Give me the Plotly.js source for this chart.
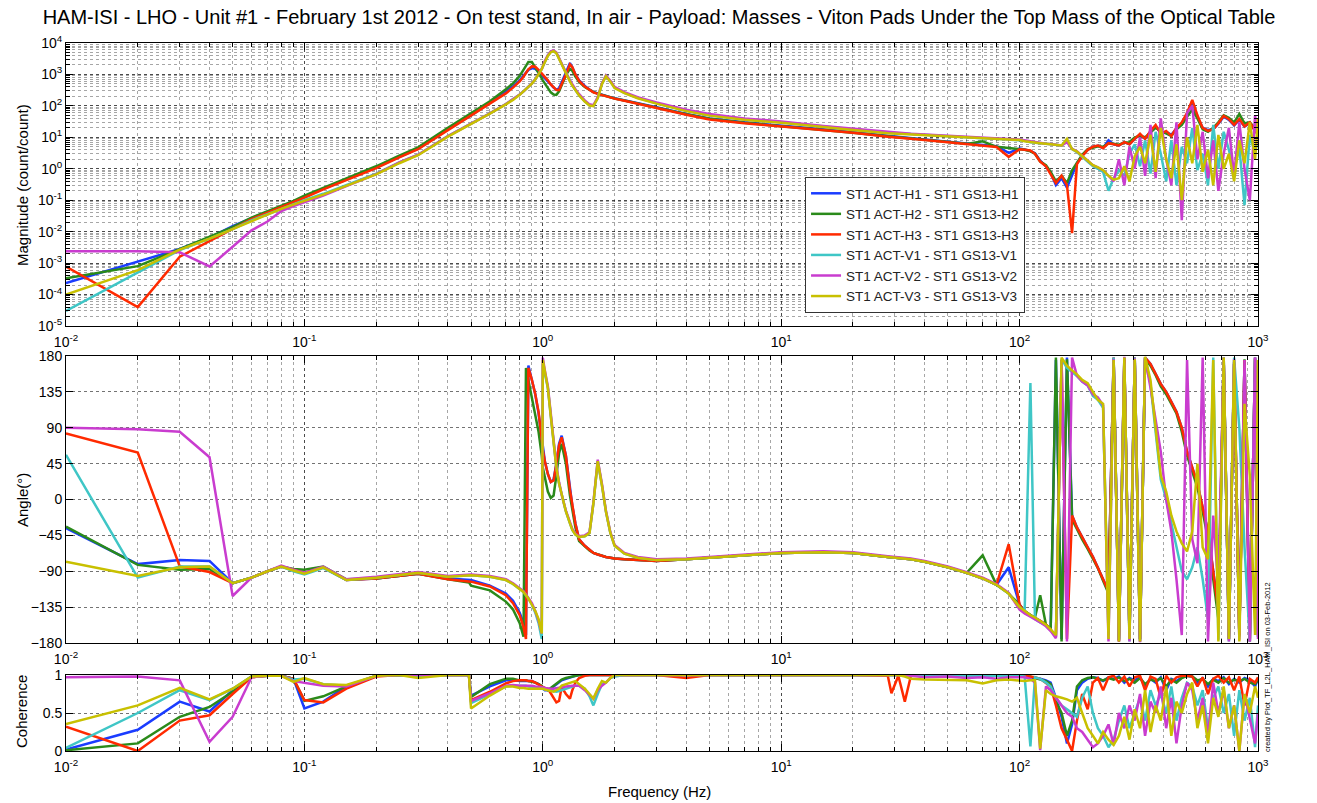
<!DOCTYPE html>
<html>
<head>
<meta charset="utf-8">
<script src="https://cdn.plot.ly/plotly-3.0.1.min.js"></script>
<style>html,body{margin:0;padding:0;background:#fff;}#chart{width:1317px;height:803px;}</style>
</head>
<body>
<div id="chart"></div>
<script>
// ---------- DATA ----------
const TITLE = 'HAM-ISI - LHO - Unit #1 - February 1st 2012 - On test stand, In air - Payload: Masses - Viton Pads Under the Top Mass of the Optical Table';
const SERIES_NAMES = ['ST1 ACT-H1 - ST1 GS13-H1','ST1 ACT-H2 - ST1 GS13-H2','ST1 ACT-H3 - ST1 GS13-H3','ST1 ACT-V1 - ST1 GS13-V1','ST1 ACT-V2 - ST1 GS13-V2','ST1 ACT-V3 - ST1 GS13-V3'];
const FREQ = [
0.01,0.02,0.03,0.04,0.05,0.06,0.07,0.08,0.09,0.1,
0.12,0.15,0.2,0.25,0.3,0.4,0.49,
0.5,0.6,0.7,0.75,0.8,0.83,0.85,0.87,0.9,0.93,
0.96,0.99,1.0,1.02,1.05,1.08,1.11,1.14,1.17,1.2,
1.25,1.3,1.33,1.37,1.42,1.5,1.57,1.63,1.7,1.77,
1.84,1.92,2.0,2.2,2.5,3,4,5,7,10,
15,20,28,29,31,33,35,40,50,60,
70,80,90,100,
105,111,116,122,129,135,142,150,158,166,
174,183,193,203,213,224,236,248,261,275,
289,304,320,336,354,372,391,412,433,455,
479,504,530,557,586,617,649,682,718,755,
794,835,878,924,972,1000];

// Magnitude (count/count)
const magH1 = [
2.3e-4,1.1e-3,2.8e-3,6.5e-3,1.5e-2,2.7e-2,4.2e-2,6.3e-2,9e-2,0.13,
0.23,0.46,1.1,2.4,4.4,18,46,
50,125,280,420,650,900,1150,1400,1600,1500,
1200,950,880,780,620,480,380,330,360,550,
1100,2300,1700,1000,650,430,330,280,250,225,
205,190,175,150,125,90,55,40,30,24,
18,14.5,11,10.8,10.3,9.9,9.6,8.5,7.3,6.4,
5.8,5.2,3.2,4.4,
4.1,3.7,3.1,1.8,1.2,0.75,0.3,0.5,0.25,0.6,
1.5,2.6,4,5,5.4,4.6,8,6,5.5,7,
6,9,12,9,15,22,14,15,12,19,
28,55,140,45,20,17,18,27,45,36,
24,36,22,28,17,12];
const magH2 = [
3.3e-4,8e-4,2.8e-3,7e-3,1.4e-2,2.8e-2,4.4e-2,6.5e-2,9.5e-2,0.14,
0.25,0.5,1.2,2.6,4.8,20,54,
58,140,340,520,900,1400,2000,2500,2500,1700,
1100,750,650,520,370,270,230,225,290,480,
950,1500,1300,850,580,400,320,275,245,222,
202,188,172,148,122,88,54,39,29,23,
17.5,14,10.8,10.5,10,9.7,9.4,8.3,7.1,6.2,
7.5,5,4.6,4.3,
4,3.6,3,1.7,1.3,0.8,0.4,0.6,0.35,0.9,
1.6,2.8,4.2,4.8,5.2,5,6.5,6.2,5.8,6.8,
7,10,11,10,14,20,16,13,11,18,
25,45,75,40,18,15,20,30,50,42,
30,55,28,30,20,15];
const magH3 = [
7.7e-4,4e-5,1.6e-3,5e-3,1.2e-2,2.5e-2,4e-2,6e-2,8.5e-2,0.12,
0.22,0.44,1.05,2.3,4.2,17,45,
50,118,250,380,600,850,1100,1450,1800,1750,
1400,1100,1000,850,650,480,380,320,320,480,
1000,2100,1700,1000,620,410,320,270,240,218,
198,184,170,146,120,86,52,37,28,22,
17,14,10.5,10.2,9.8,9.5,9.2,8.2,7,6.1,
5.5,4.9,2.4,4.2,
4,3.8,3,1.7,1.2,0.7,0.35,0.6,0.3,0.009,
1.4,2.5,4,5,5.5,4.5,6.5,6,5.5,7,
6,9,13,9,16,25,13,16,11,20,
30,60,155,50,20,16,18,28,48,38,
25,38,22,30,16,13];
const magV1 = [
3e-5,5e-4,2.6e-3,6e-3,1.2e-2,2.3e-2,3.6e-2,5.4e-2,7.5e-2,0.1,
0.16,0.3,0.7,1.6,2.8,11,25,
27,58,115,160,230,290,340,400,520,700,
1000,1500,1800,2600,4000,5200,5600,4800,3200,2000,
1100,600,450,320,220,140,105,100,180,500,
900,600,380,260,180,120,70,50,37,30,
22,18,14,13.8,13.4,13,12.6,11.8,10.8,10,
9.4,9,8.6,8.3,
7.8,7,6.8,6.5,6.2,6,5.8,5.4,8,4.2,
3.4,2.4,1.7,1.2,1,0.8,0.2,0.5,0.9,0.6,
3,6,1.2,8,0.7,15,3,0.4,8,0.3,
5,1.5,20,0.9,3,0.3,25,1,15,4,
0.8,5,0.07,12,3,9];
const magV2 = [
2.4e-3,2.4e-3,2.2e-3,7.8e-4,3.3e-3,1.1e-2,2.1e-2,4.5e-2,6.5e-2,0.085,
0.14,0.28,0.68,1.6,2.8,11,25,
27,58,115,160,230,290,340,400,520,700,
1000,1500,1800,2700,4100,5400,5800,5000,3300,2100,
1150,640,480,340,235,150,112,105,190,520,
920,630,400,275,190,128,75,55,40,32,
23,19,14.5,14.3,13.9,13.5,13,12.2,11,10.2,
9.6,9.2,8.8,8.5,
8,7.2,6.9,6.6,6.3,6.1,5.9,5.5,7,4.3,
3.6,2.6,1.8,1.3,1.1,0.9,0.6,0.4,2,0.3,
5,1,10,0.6,25,0.5,40,2,0.3,30,
0.023,60,100,2,15,0.5,8,0.2,3,20,
0.6,30,1,0.1,50,6];
const magV3 = [
1e-4,6e-4,2.7e-3,6e-3,1.2e-2,2.2e-2,3.5e-2,5.3e-2,7.4e-2,0.095,
0.15,0.28,0.66,1.5,2.7,10.5,24,
26,57,112,155,225,285,335,395,510,690,
990,1480,1780,2550,3900,5100,5500,4700,3100,1950,
1080,590,440,315,215,138,103,98,175,490,
880,590,370,255,175,118,68,49,36,29,
21,17,13.5,13.3,12.9,12.5,12.1,11.4,10.5,9.8,
9.2,8.8,8.4,8.2,
7.5,7,6.8,6.5,6.2,6,5.8,5.5,9,4.2,
3.5,2.5,1.8,1.3,1.1,0.9,0.6,0.45,0.5,1.2,
0.4,2.5,5,1.5,12,0.8,20,2,0.5,6,
0.1,10,1.5,25,0.8,4,0.3,12,1,3,
0.4,8,1.5,30,2,40];

// Phase (degrees)
const phH1 = [
-36,-81,-76,-77,-105,-98,-90,-84,-88,-92,
-85,-101,-99,-96,-93,-99,-100,
-101,-108,-118,-127,-142,-155,-170,168,150,132,
108,75,62,48,32,22,25,45,70,80,
55,12,-8,-30,-50,-58,-63,-67,-69,-71,
-72,-73,-74,-75,-76,-77,-75,-73,-70,-67,
-66,-67,-72,-72.5,-73,-74,-75,-78,-85,-92,
-99,-107,-85,-132,
-140,-145,-148,-152,-157,-163,175,-175,178,-20,
-35,-48,-60,-72,-85,-100,-115,178,-178,175,
-170,178,-175,178,170,158,145,135,122,110,
90,60,40,20,-10,-40,-90,-140,175,-175,
170,-170,175,-178,178,-170];
const phH2 = [
-34,-82,-88,-87,-105,-98,-90,-84,-87,-88,
-84,-100,-99,-96,-93,-100,-104,
-108,-114,-128,-138,-155,-172,165,150,125,105,
85,55,40,28,10,2,5,30,58,70,
45,5,-12,-35,-52,-59,-64,-67,-69,-71,
-72,-73,-74,-75,-76,-77,-75,-73,-70,-67,
-66,-67,-72,-72.5,-73,-74,-75,-78,-85,-92,
-70,-107,-118,-132,
-140,-145,-148,-120,-157,-163,178,-178,176,-25,
-38,-50,-62,-74,-86,-102,-118,176,-176,178,
-172,176,-178,176,168,156,142,132,120,108,
85,55,35,15,-15,-50,-100,-150,178,-176,
172,-172,176,-176,176,-172];
const phH3 = [
83,59,-84,-91,-105,-98,-90,-84,-88,-92,
-85,-101,-99,-96,-93,-100,-102,
-103,-109,-120,-130,-145,-160,-175,165,150,132,
110,75,62,48,32,22,24,45,68,78,
55,12,-8,-30,-50,-58,-63,-67,-69,-71,
-72,-73,-74,-75,-76,-77,-75,-73,-70,-67,
-66,-67,-72,-72.5,-73,-74,-75,-78,-85,-92,
-99,-107,-56,-132,
-142,-146,-149,-152,-157,-163,-172,175,-175,-20,
-35,-48,-60,-72,-85,-100,-115,178,-178,175,
-170,178,-175,178,170,158,145,135,122,110,
90,60,40,20,-10,-40,-90,-140,175,-175,
170,-170,175,-178,178,-170];
const phV1 = [
56,-98,-84,-84,-105,-98,-90,-84,-90,-94,
-86,-101,-98,-95,-92,-97,-95,
-95,-97,-101,-106,-112,-116,-120,-124,-132,-142,
-155,-175,170,158,140,105,70,40,20,5,
-15,-30,-38,-44,-47,-46,-42,-5,48,18,
-15,-42,-58,-68,-73,-76,-75,-73,-70,-67,
-66,-67,-72,-72.5,-73,-74,-75,-78,-85,-92,
-99,-107,-118,-135,
-140,146,-150,-154,-158,-164,-172,176,165,160,
155,148,143,130,125,115,-170,178,-175,170,
-178,178,-176,178,145,85,25,0,-30,-60,
-90,-100,-85,-60,-100,-150,178,-176,178,-178,
178,90,-60,-178,178,-170];
const phV2 = [
90,88,85,53,-121,-98,-90,-83,-88,-92,
-84,-100,-97,-94,-91,-96,-94,
-94,-96,-100,-105,-111,-115,-119,-123,-130,-140,
-152,-168,178,162,142,108,72,42,22,6,
-14,-29,-37,-43,-46,-45,-41,-4,50,20,
-14,-41,-57,-67,-72,-75,-74,-72,-69,-66,
-65,-66,-71,-71.5,-72,-73,-74,-77,-84,-91,
-98,-106,-117,-138,
-143,-147,-150,-154,-159,-165,-174,175,-178,178,
155,148,143,132,128,118,-178,176,-177,179,
-178,177,-179,178,140,100,60,0,-40,-100,
-170,175,-50,-80,178,-178,-20,-110,178,-178,
176,-176,175,-178,178,-175];
const phV3 = [
-78,-96,-85,-84,-105,-98,-90,-84,-89,-93,
-85,-101,-98,-95,-92,-97,-95,
-95,-97,-101,-106,-112,-116,-120,-124,-132,-140,
-150,-168,175,160,140,105,70,40,20,5,
-15,-30,-38,-44,-47,-46,-42,-5,48,18,
-15,-42,-58,-68,-73,-76,-75,-73,-70,-67,
-66,-67,-72,-72.5,-73,-74,-75,-78,-85,-92,
-99,-107,-118,-135,
-140,-145,-148,-152,-157,-163,-170,178,168,162,
157,150,146,135,125,120,-175,175,-178,178,
-175,176,-178,179,150,90,30,10,-20,-40,
-55,-65,-40,45,-60,-75,175,-178,178,-175,
175,-178,120,30,-170,175];

// Coherence
const cohH1 = [
0.02,0.28,0.65,0.52,0.8,0.98,0.99,0.99,0.95,0.56,
0.65,0.85,0.99,1,1,1,1,
0.73,0.85,0.93,0.93,0.92,0.92,0.92,0.92,0.92,0.9,
0.88,0.84,0.82,0.8,0.8,0.82,0.85,0.88,0.9,0.93,
0.95,0.97,0.98,0.99,1,1,1,1,1,1,
1,1,1,1,1,1,1,1,1,1,
1,1,1,1,1,1,1,1,1,1,
1,1,0.99,1,
0.98,0.97,0.96,0.95,0.93,0.9,0.7,0.45,0.1,0.35,
0.8,0.9,0.95,0.97,0.96,0.92,0.97,0.95,0.98,0.9,
0.96,0.93,0.97,0.85,0.95,0.9,0.97,0.8,0.95,0.92,
0.97,0.99,0.98,0.9,0.96,0.85,0.95,0.92,0.97,0.88,
0.95,0.9,0.96,0.93,0.85,0.95];
const cohH2 = [
0.01,0.1,0.45,0.58,0.78,0.98,0.99,0.99,0.95,0.66,
0.72,0.85,0.99,1,1,1,1,
0.71,0.88,0.95,0.95,0.93,0.93,0.93,0.92,0.91,0.9,
0.88,0.86,0.84,0.82,0.8,0.83,0.86,0.89,0.92,0.94,
0.96,0.97,0.98,0.99,1,1,1,1,1,1,
1,1,1,1,1,1,1,1,1,1,
1,1,1,1,1,1,1,1,1,1,
0.98,1,1,1,
0.99,0.98,0.96,0.94,0.92,0.88,0.65,0.5,0.2,0.4,
0.85,0.93,0.96,0.97,0.95,0.93,0.96,0.94,0.97,0.92,
0.95,0.9,0.96,0.88,0.94,0.92,0.96,0.85,0.94,0.9,
0.96,0.99,0.98,0.93,0.95,0.88,0.94,0.9,0.96,0.9,
0.94,0.92,0.95,0.9,0.88,0.94];
const cohH3 = [
0.32,0.0,0.4,0.47,0.75,0.97,0.99,0.99,0.95,0.67,
0.64,0.82,0.98,1,1,1,1,
0.67,0.78,0.89,0.92,0.93,0.93,0.93,0.92,0.92,0.9,
0.88,0.85,0.84,0.83,0.82,0.76,0.7,0.64,0.66,0.84,
0.75,0.69,0.8,0.9,0.96,0.99,1,1,1,1,
1,1,1,1,1,1,0.96,1,1,1,
1,1,0.99,0.76,0.99,0.65,0.99,1,1,1,
1,1,1,1,
0.99,0.98,0.97,0.95,0.9,0.85,0.6,0.3,0.15,0.0,
0.4,0.75,0.55,0.9,0.96,0.8,0.97,0.99,0.9,0.98,
0.85,0.97,0.99,0.8,0.98,0.95,0.7,0.99,0.9,0.97,
0.99,0.99,0.98,0.85,0.97,0.75,0.95,0.99,0.9,0.97,
0.8,0.98,0.6,0.95,0.9,0.97];
const cohV1 = [
0.04,0.5,0.8,0.67,0.82,0.98,0.99,0.99,0.94,0.95,
0.88,0.86,0.99,1,0.98,1,1,
0.63,0.75,0.85,0.86,0.86,0.86,0.86,0.85,0.85,0.84,
0.83,0.82,0.82,0.81,0.8,0.79,0.78,0.78,0.79,0.8,
0.82,0.84,0.85,0.86,0.86,0.82,0.72,0.6,0.75,0.88,
0.9,0.96,0.98,1,1,1,1,1,1,1,
1,1,1,1,1,1,1,0.99,0.99,0.99,
0.99,0.99,0.99,0.99,
0.98,0.06,0.97,0.95,0.9,0.85,0.7,0.6,0.55,0.5,
0.45,0.7,0.85,0.5,0.3,0.2,0.05,0.15,0.4,0.6,
0.3,0.5,0.7,0.4,0.8,0.6,0.75,0.5,0.85,0.4,
0.7,0.9,0.85,0.6,0.8,0.3,0.7,0.85,0.5,0.75,
0.2,0.8,0.4,0.7,0.05,0.6];
const cohV2 = [
0.97,0.98,0.93,0.12,0.45,0.97,0.99,0.99,0.92,0.9,
0.86,0.85,0.99,1,1,1,1,
0.66,0.76,0.86,0.87,0.86,0.86,0.86,0.86,0.86,0.85,
0.85,0.84,0.84,0.83,0.82,0.82,0.82,0.83,0.84,0.84,
0.85,0.86,0.86,0.86,0.86,0.8,0.74,0.69,0.8,0.86,
0.9,0.96,1,1,1,1,1,1,1,1,
1,1,1,1,1,1,0.99,0.97,0.98,0.96,
0.97,0.95,0.97,0.97,
0.97,0.95,0.9,0.01,0.85,0.8,0.7,0.6,0.5,0.45,
0.3,0.25,0.15,0.05,0.1,0.2,0.35,0.08,0.5,0.3,
0.6,0.4,0.75,0.2,0.65,0.5,0.85,0.3,0.7,0.1,
0.6,0.9,0.8,0.4,0.7,0.2,0.9,0.5,0.8,0.3,
0.6,0.0,0.75,0.4,0.1,0.5];
const cohV3 = [
0.355,0.6,0.83,0.68,0.82,0.98,0.99,0.99,0.91,0.96,
0.88,0.87,0.99,1,0.96,1,1,
0.56,0.73,0.85,0.85,0.83,0.83,0.82,0.82,0.82,0.82,
0.82,0.82,0.82,0.81,0.8,0.79,0.78,0.8,0.82,0.86,
0.88,0.9,0.91,0.92,0.88,0.82,0.75,0.69,0.82,0.92,
0.9,0.96,1,1,1,1,1,1,1,1,
1,1,1,1,1,0.98,0.95,0.94,0.93,0.93,
0.89,0.93,0.94,0.93,
0.92,0.93,0.93,0.03,0.8,0.75,0.72,0.7,0.68,0.65,
0.7,0.5,0.3,0.2,0.1,0.25,0.15,0.08,0.2,0.45,
0.15,0.55,0.3,0.8,0.25,0.6,0.4,0.85,0.2,0.65,
0.5,0.75,0.9,0.3,0.6,0.1,0.7,0.45,0.85,0.3,
0.6,0.0,0.75,0.5,0.85,0.7];

const X_TICKS = [0.01,0.1,1,10,100,1000];
const X_TICKTEXT = ['10<sup>-2</sup>','10<sup>-1</sup>','10<sup>0</sup>','10<sup>1</sup>','10<sup>2</sup>','10<sup>3</sup>'];
const MAG_TICKS = [1e-5,1e-4,1e-3,1e-2,1e-1,1,10,100,1000,10000];
const MAG_TICKTEXT = ['10<sup>-5</sup>','10<sup>-4</sup>','10<sup>-3</sup>','10<sup>-2</sup>','10<sup>-1</sup>','10<sup>0</sup>','10<sup>1</sup>','10<sup>2</sup>','10<sup>3</sup>','10<sup>4</sup>'];
const PH_TICKS = [-180,-135,-90,-45,0,45,90,135,180];
const COH_TICKS = [0,0.5,1];
const COH_TICKTEXT = ['0','0.5','1'];

// ---------- STYLE / BUILD ----------
const COLORS = ['#1a3cff','#2a8a1a','#ff2a00','#3fc6c6','#c93ccf','#c8c000'];
const MAGS = [magH1,magH2,magH3,magV1,magV2,magV3];
const PHS = [phH1,phH2,phH3,phV1,phV2,phV3];
const COHS = [cohH1,cohH2,cohH3,cohV1,cohV2,cohV3];
const FONT = 'Liberation Sans, Arial, Helvetica, sans-serif';

const traces = [];
const panels = [['x','y',MAGS,true],['x2','y2',PHS,false],['x3','y3',COHS,false]];
panels.forEach(([xa,ya,arrs,leg]) => {
  arrs.forEach((vals,i) => {
    traces.push({
      type:'scatter', mode:'lines', x:FREQ, y:vals, xaxis:xa, yaxis:ya,
      name:SERIES_NAMES[i], legendgroup:'g'+i, showlegend:leg,
      line:{color:COLORS[i], width:2.5}, hoverinfo:'skip'
    });
  });
});

const gridCol = 'rgba(0,0,0,0.55)';
const minorGrid = 'rgba(0,0,0,0.35)';
function xAxis(anchor){
  return {
    type:'log', range:[-2,3], anchor:anchor, domain:[0,1],
    tickmode:'array', tickvals:X_TICKS, ticktext:X_TICKTEXT,
    ticks:'inside', ticklen:7, tickcolor:'#000', ticklabelstandoff:3,
    showline:true, linecolor:'#000', linewidth:1, mirror:'ticks',
    showgrid:true, gridcolor:gridCol, griddash:'dot', gridwidth:1,
    minor:{dtick:'D1', ticks:'inside', ticklen:4, tickcolor:'#000', showgrid:true, gridcolor:minorGrid, griddash:'dot', gridwidth:1},
    tickfont:{family:FONT, size:14, color:'#000'}, zeroline:false
  };
}
function yStyle(o){
  return Object.assign({
    ticks:'inside', ticklen:7, tickcolor:'#000',
    showline:true, linecolor:'#000', linewidth:1, mirror:'ticks',
    showgrid:true, gridcolor:gridCol, griddash:'dot', gridwidth:1,
    tickfont:{family:FONT, size:14, color:'#000'}, zeroline:false
  }, o);
}
const layout = {
  width:1317, height:803,
  margin:{l:66, r:59, t:43, b:52},
  paper_bgcolor:'#fff', plot_bgcolor:'#fff',
  font:{family:FONT, color:'#000'},
  title:{text:TITLE, x:0.5004, xanchor:'center', y:0.979, yanchor:'middle', yref:'container', font:{family:FONT, size:20, color:'#000'}},
  showlegend:true,
  legend:{x:0.62, y:0.8107, xanchor:'left', yanchor:'top', bgcolor:'#fff', bordercolor:'#333', borderwidth:1,
          font:{family:FONT, size:13.5, color:'#222'}, tracegroupgap:0, itemwidth:30},
  xaxis:xAxis('y'),
  xaxis2:xAxis('y2'),
  xaxis3:xAxis('y3'),
  yaxis:yStyle({type:'log', range:[-5,4], domain:[0.6003,1], anchor:'x',
    tickmode:'array', tickvals:MAG_TICKS, ticktext:MAG_TICKTEXT,
    minor:{dtick:'D1', ticks:'inside', ticklen:4, tickcolor:'#000', showgrid:true, gridcolor:minorGrid, griddash:'dot', gridwidth:1}}),
  yaxis2:yStyle({range:[-180,180], domain:[0.1525,0.5579], anchor:'x2', tickmode:'array', tickvals:PH_TICKS}),
  yaxis3:yStyle({range:[0,1], domain:[0,0.1073], anchor:'x3', tickmode:'array', tickvals:COH_TICKS, ticktext:COH_TICKTEXT}),
  annotations:[
    {text:'Magnitude (count/count)', xref:'paper', yref:'paper', x:-0.0369, y:0.7994, textangle:-90, showarrow:false, xanchor:'center', yanchor:'middle', font:{family:FONT, size:15, color:'#000'}},
    {text:'Angle(°)', xref:'paper', yref:'paper', x:-0.0369, y:0.3545, textangle:-90, showarrow:false, xanchor:'center', yanchor:'middle', font:{family:FONT, size:15, color:'#000'}},
    {text:'Coherence', xref:'paper', yref:'paper', x:-0.0369, y:0.0551, textangle:-90, showarrow:false, xanchor:'center', yanchor:'middle', font:{family:FONT, size:15, color:'#000'}},
    {text:'Frequency (Hz)', xref:'paper', yref:'paper', x:0.4983, y:-0.0565, showarrow:false, xanchor:'center', yanchor:'middle', font:{family:FONT, size:15, color:'#000'}},
    {text:'created by Plot_TF_L2L_HAM_ISI on 03-Feb-2012', xref:'paper', yref:'paper', x:1.0076, y:0.1186, textangle:-90, showarrow:false, xanchor:'center', yanchor:'middle', font:{family:FONT, size:7.5, color:'#000'}}
  ]
};
Plotly.newPlot('chart', traces, layout, {displayModeBar:false, staticPlot:true});
</script>
</body>
</html>
